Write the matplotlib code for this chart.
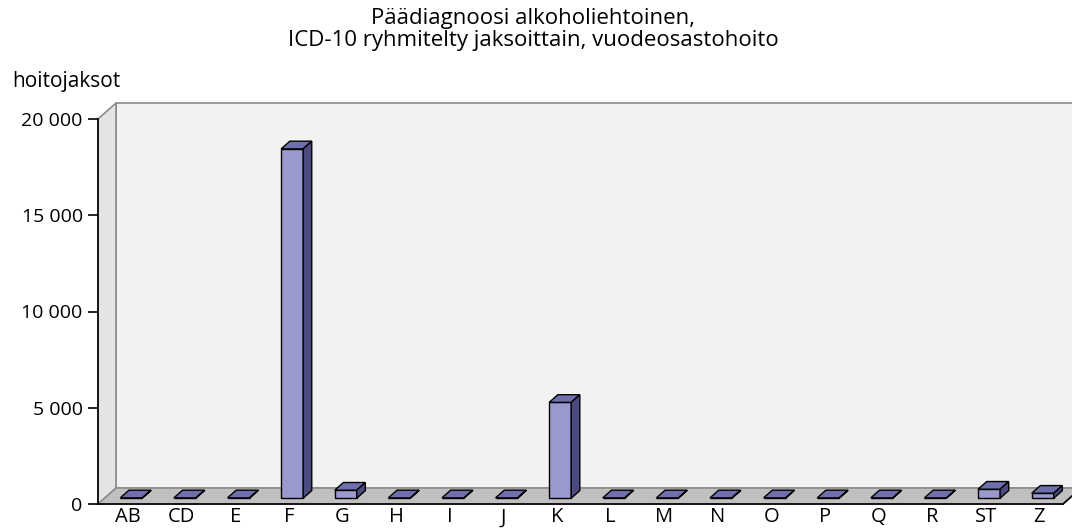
import numpy as np
import matplotlib.pyplot as plt
from matplotlib.patches import Polygon
from matplotlib.ticker import FuncFormatter

plt.rcParams['font.family'] = ['Open Sans', 'DejaVu Sans']

kategoriat = ["AB", "CD", "E", "F", "G", "H", "I", "J", "K", "L", "M", "N",
              "O", "P", "Q", "R", "ST", "Z"]
hoitojaksot = [20, 20, 20, 18150, 420, 20, 20, 20, 4980, 20, 20, 20,
               20, 20, 20, 20, 470, 260]
yticks = [0, 5000, 10000, 15000, 20000]

# 3d look: full depth offset in data units
DX, DY = 0.336, 830
D0, D1 = 0.36, 0.84     # bar depth range (fraction of full depth)
W = 0.41                # bar width

H = 529
fig = plt.figure(figsize=(10.72, 5.29), dpi=100)
ax = fig.add_axes([98/1072, 25/H, 965/1072, 385/H])
ax.set_xlim(-0.5, 17.5)
ax.set_ylim(0, 20000)
ymax = 20000

# walls and floor
back = Polygon([(-0.5+DX, DY), (17.5+DX, DY), (17.5+DX, ymax+DY), (-0.5+DX, ymax+DY)],
               closed=True, fc='#f2f2f2', ec='#8c8c8c', lw=1.2, clip_on=False, zorder=0)
left = Polygon([(-0.5, 0), (-0.5+DX, DY), (-0.5+DX, ymax+DY), (-0.5, ymax)],
               closed=True, fc='#e4e4e4', ec='#8c8c8c', lw=1.2, clip_on=False, zorder=0)
floor = Polygon([(-0.5, 0), (17.5, 0), (17.5+DX, DY), (-0.5+DX, DY)],
                closed=True, fc='#c0c0c0', ec='#8c8c8c', lw=1.2, clip_on=False, zorder=0)
for p in (back, left, floor):
    ax.add_patch(p)
ax.plot([17.5, 17.5+DX], [0, DY], color='black', lw=1.2, clip_on=False, zorder=1)

x = np.arange(len(kategoriat))
x0 = x - W/2 + D0*DX
b0 = D0*DY
ax.bar(x0, hoitojaksot, width=W, bottom=b0, align='edge', color='#9999cc',
       edgecolor='black', linewidth=1.0, zorder=2, clip_on=False)
ddx, ddy = (D1-D0)*DX, (D1-D0)*DY
for xi, v in zip(x0, hoitojaksot):
    top = b0 + v
    ax.add_patch(Polygon([(xi, top), (xi+W, top), (xi+W+ddx, top+ddy), (xi+ddx, top+ddy)],
                         closed=True, fc='#6f6fae', ec='black', lw=1.0, zorder=3, clip_on=False))
    ax.add_patch(Polygon([(xi+W, b0), (xi+W+ddx, b0+ddy), (xi+W+ddx, top+ddy), (xi+W, top)],
                         closed=True, fc='#4b4b80', ec='black', lw=1.0, zorder=3, clip_on=False))

for s in ('top', 'right'):
    ax.spines[s].set_visible(False)
ax.spines['left'].set_linewidth(1.2)
ax.spines['bottom'].set_linewidth(1.2)
ax.spines['left'].set_zorder(4)
ax.spines['bottom'].set_zorder(4)
ax.patch.set_visible(False)

ax.set_yticks(yticks)
ax.yaxis.set_major_formatter(FuncFormatter(lambda v, p: f"{int(v):,}".replace(",", " ")))
ax.tick_params(axis='y', direction='out', length=7, width=1.2, labelsize=14, pad=4)
ax.set_xticks(x + 0.06)
ax.set_xticklabels(kategoriat)
ax.tick_params(axis='x', length=0, labelsize=14.5, pad=2.5)

fig.text(533/1072, 1 - 24/H, "Päädiagnoosi alkoholiehtoinen,",
         ha='center', va='baseline', fontsize=16)
fig.text(533/1072, 1 - 46/H, "ICD-10 ryhmitelty jaksoittain, vuodeosastohoito",
         ha='center', va='baseline', fontsize=16)
fig.text(12/1072, 1 - 87/H, "hoitojaksot", ha='left', va='baseline', fontsize=15)

fig.savefig("out.png", dpi=100)
